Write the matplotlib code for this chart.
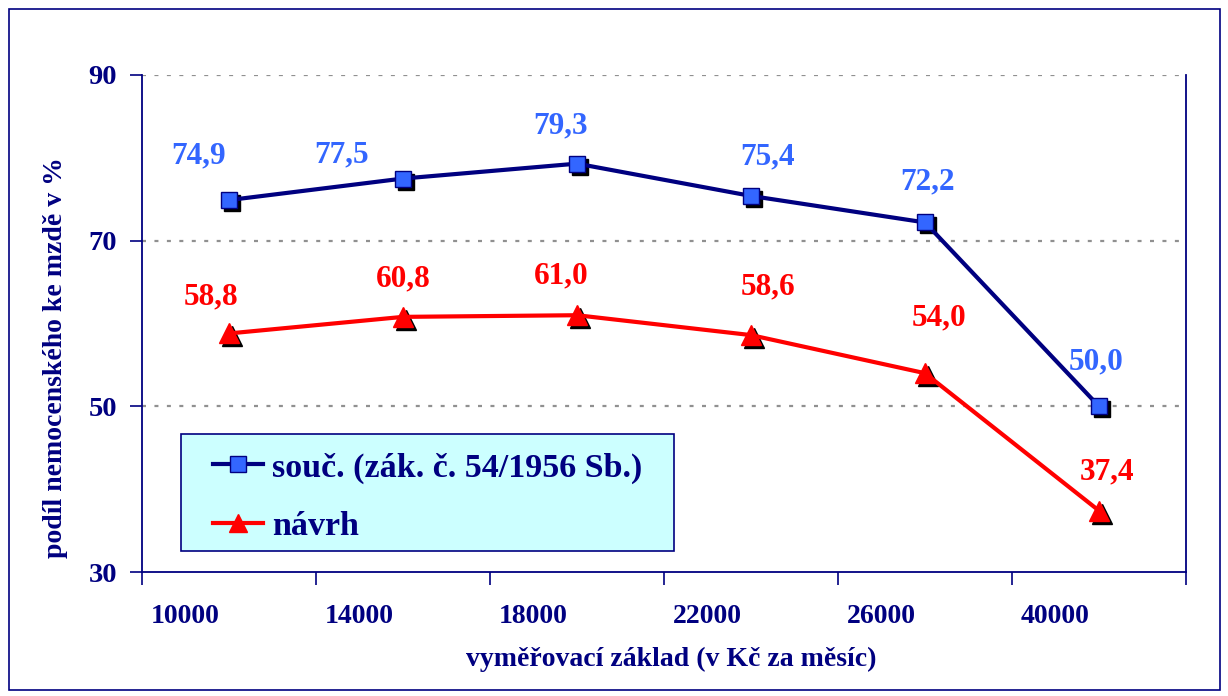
import matplotlib
matplotlib.use("Agg")
import matplotlib.pyplot as plt
import matplotlib.transforms as mtransforms
from matplotlib.patches import Rectangle
from matplotlib.lines import Line2D

plt.rcParams['font.family'] = ['Liberation Serif', 'DejaVu Serif']
plt.rcParams['font.weight'] = 'bold'

# data
kategorie = ['10000', '14000', '18000', '22000', '26000', '40000']
soucasny = [74.9, 77.5, 79.3, 75.4, 72.2, 50.0]
navrh = [58.8, 60.8, 61.0, 58.6, 54.0, 37.4]
popisky_souc = ['74,9', '77,5', '79,3', '75,4', '72,2', '50,0']
popisky_navrh = ['58,8', '60,8', '61,0', '58,6', '54,0', '37,4']
nazvy = ['souč. (zák. č. 54/1956 Sb.)', 'návrh']

# posuny popisku (v bodech)
off_souc = [(-22, 32), (-44, 17), (-12, 27), (12, 28), (2, 29), (-2, 32)]
off_navrh = [(-13, 26), (0, 27), (-11, 28), (12, 35), (10, 40), (6, 28)]

NAVY = '#000080'
BLUE = '#3366FF'
RED = '#FF0000'
W, H = 1228, 696

fig = plt.figure(figsize=(W / 100, H / 100), dpi=100)
ax = fig.add_axes([142/W, 1-572/H, (1186-142)/W, (572-75)/H])

x = list(range(len(kategorie)))

# stiny znacek
stin = mtransforms.offset_copy(ax.transData, fig=fig, x=3, y=-3, units='dots')
ax.plot(x, soucasny, ls='none', marker='s', ms=12, color='black', transform=stin, zorder=3)
ax.plot(x, navrh, ls='none', marker='^', ms=14, color='black', transform=stin, zorder=3)

ax.plot(x, soucasny, color=NAVY, lw=3, marker='s', ms=12, mfc=BLUE, mec=NAVY,
        mew=1, zorder=4)
ax.plot(x, navrh, color=RED, lw=3, marker='^', ms=14, mfc=RED, mec=RED, zorder=4)

for xi, yi, t, o in zip(x, soucasny, popisky_souc, off_souc):
    ax.annotate(t, (xi, yi), xytext=o, textcoords='offset points', ha='center',
                va='center', color=BLUE, fontsize=22.5, fontweight='bold')
for xi, yi, t, o in zip(x, navrh, popisky_navrh, off_navrh):
    ax.annotate(t, (xi, yi), xytext=o, textcoords='offset points', ha='center',
                va='center', color=RED, fontsize=22.5, fontweight='bold')

ax.set_xlim(-0.5, len(kategorie) - 0.5)
ax.set_ylim(30, 90)
ax.set_yticks([30, 50, 70, 90])
ax.tick_params(axis='y', labelsize=20.5, labelcolor=NAVY, color=NAVY, length=9,
               width=1.2, direction='out', pad=9)

# znacky na hranicich kategorii, popisky posunute doleva
ax.set_xticks([i - 0.5 for i in range(len(kategorie) + 1)], minor=True)
ax.set_xticks([i - 0.25 for i in x])
ax.set_xticklabels(kategorie)
ax.tick_params(axis='x', which='major', length=0, labelsize=20, labelcolor=NAVY, pad=23)
ax.tick_params(axis='x', which='minor', length=9, color=NAVY, width=1.2, direction='out')

for v in [50, 70, 90]:
    ax.axhline(v, color='#909090', lw=1.6, ls=(0, (1.8, 3.8)), zorder=1)

for s in ['left', 'right', 'bottom']:
    ax.spines[s].set_color(NAVY)
    ax.spines[s].set_linewidth(1.3)
ax.spines['top'].set_visible(False)

fig.text(671/W, 1-659/H, 'vyměřovací základ (v Kč za měsíc)', fontsize=20,
         color=NAVY, fontweight='bold', ha='center', va='center')
fig.text(56/W, 1-358/H, 'podíl nemocenského ke mzdě v %', fontsize=20,
         color=NAVY, fontweight='bold', ha='center', va='center', rotation=90)

# legenda
def px(xp, yp):
    return xp / W, 1 - yp / H

fig.patches.append(Rectangle(px(181, 551), 493/W, 117/H, transform=fig.transFigure,
                             facecolor='#CCFFFF', edgecolor=NAVY, lw=1.2, zorder=5))
leg_y = [464, 523]
leg_base = [477, 535]
styly = [dict(color=NAVY, marker='s', ms=11, mfc=BLUE, mec=NAVY, mew=1),
         dict(color=RED, marker='^', ms=13, mfc=RED, mec=RED)]
for ly, lb, nazev, st in zip(leg_y, leg_base, nazvy, styly):
    fig.lines.append(Line2D([213/W, 263/W], [1-ly/H, 1-ly/H], lw=3,
                            transform=fig.transFigure, zorder=6, **st,
                            markevery=[]))
    fig.lines.append(Line2D([238/W], [1-ly/H], ls='none', transform=fig.transFigure,
                            zorder=7, **st))
    fig.text(272/W, 1-lb/H, nazev, fontsize=24.5, color=NAVY, fontweight='bold',
             ha='left', va='baseline', zorder=7)

fig.patches.append(Rectangle(px(9, 690), 1211/W, 681/H, transform=fig.transFigure,
                             fill=False, edgecolor=NAVY, lw=1.2))

fig.savefig('out.png', dpi=100)
